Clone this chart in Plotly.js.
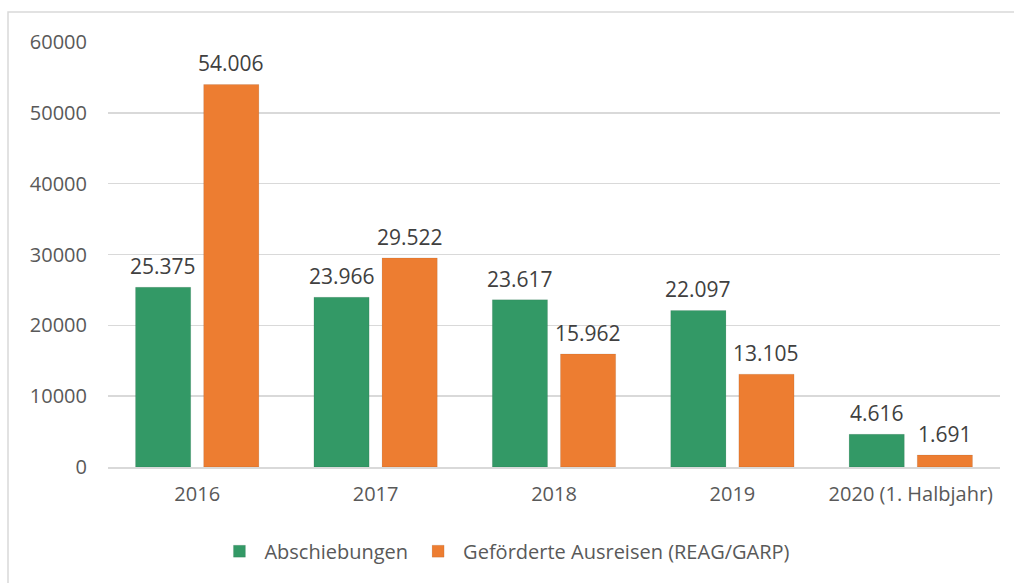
<!DOCTYPE html>
<html><head><meta charset="utf-8">
<script src="https://cdn.plot.ly/plotly-3.0.1.min.js"></script>
<style>html,body{margin:0;padding:0;background:#fff}#chart{width:1014px;height:583px}</style>
</head><body><div id="chart"></div>
<script>
const categories = ["2016", "2017", "2018", "2019", "2020 (1. Halbjahr)"];
const abschiebungen = [25375, 23966, 23617, 22097, 4616];
const ausreisen = [54006, 29522, 15962, 13105, 1691];
const yTicks = [0, 10000, 20000, 30000, 40000, 50000, 60000];

const fmt = v => String(v).replace(/\B(?=(\d{3})+(?!\d))/g, ".");
const font = {family: "Open Sans, Liberation Sans, sans-serif", size: 20, color: "#595959"};
const labelFont = {family: font.family, size: 21, color: "#404040"};
const mk = (name, y, color) => ({
  type: "bar", name, x: categories, y,
  marker: {color, line: {color: "rgba(0,0,0,0.08)", width: 1}},
  hoverinfo: "skip"
});
const data = [
  mk("Abschiebungen", abschiebungen, "#339966"),
  mk("Geförderte Ausreisen (REAG/GARP)", ausreisen, "#ED7D31")
];
const annotations = [];
[[abschiebungen, -34], [ausreisen, 34]].forEach(([vals, dx]) => {
  vals.forEach((v, i) => annotations.push({
    x: i, y: v, xref: "x", yref: "y", text: fmt(v), showarrow: false,
    xanchor: "center", yanchor: "bottom", xshift: dx, yshift: 5, font: labelFont
  }));
});
const layout = {
  width: 1014, height: 583,
  margin: {l: 108, r: 14, t: 42, b: 116},
  barmode: "group", bargap: 0.236, bargroupgap: 0.19,
  paper_bgcolor: "#fff", plot_bgcolor: "#fff",
  font,
  showlegend: true,
  legend: {orientation: "h", x: 0.445, xanchor: "center", y: -0.198, yanchor: "middle",
           font: {family: font.family, size: 20, color: "#595959"}, traceorder: "normal", itemwidth: 40},
  xaxis: {type: "category", categoryarray: categories, range: [-0.5, categories.length - 0.5],
          showgrid: false, showline: true, linecolor: "#d9d9d9", linewidth: 1.5,
          ticks: "", ticklabelstandoff: 8, tickfont: font, fixedrange: true},
  yaxis: {range: [0, 60000], tickvals: yTicks, tickformat: "d", showgrid: true, gridcolor: "#d9d9d9",
          gridwidth: 1.5, zeroline: false, showline: false, ticks: "", ticklabelstandoff: 20, tickfont: font, fixedrange: true},
  annotations,
  shapes: [{type: "rect", xref: "paper", yref: "paper", x0: -0.1121, x1: 1.03, y0: -0.35, y1: 1.0706,
            line: {color: "#d9d9d9", width: 1.5}, fillcolor: "rgba(0,0,0,0)", layer: "below"}]
};
Plotly.newPlot("chart", data, layout, {displayModeBar: false, staticPlot: true});
</script></body></html>
